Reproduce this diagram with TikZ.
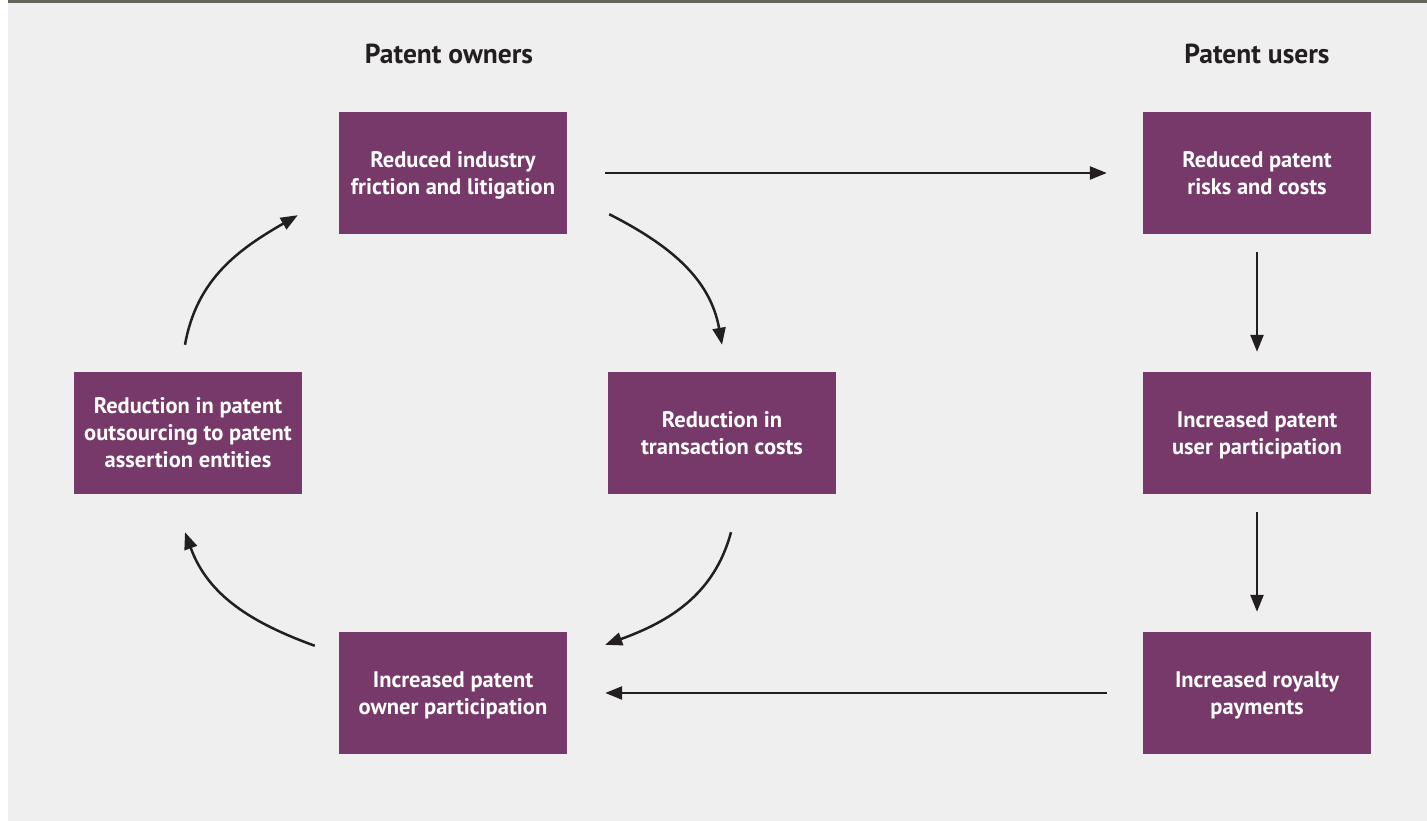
\documentclass[tikz,border=0pt]{standalone}
\usepackage{fontspec}
\setmainfont{PT Sans}
\usetikzlibrary{arrows.meta,positioning,calc}
\definecolor{plum}{HTML}{77386A}
\definecolor{paper}{HTML}{EFEFEF}
\definecolor{topline}{HTML}{66665F}
\definecolor{ink}{HTML}{231F20}

\begin{document}
\begin{tikzpicture}[x=1pt,y=1pt,>={Triangle[length=17pt,width=13pt]},node distance=260pt,on grid,
	box/.style={fill=plum,text=white,font=\bfseries\fontsize{22.5}{27}\selectfont,align=center,
		minimum width=228pt,minimum height=122pt,inner sep=0pt,text depth=0pt},
	head/.style={text=ink,font=\bfseries\fontsize{27.5}{30}\selectfont},
	link/.style={->,draw=ink,line width=2.5pt}]
				  \fill[white]   (0,0) rectangle (1427,821);
				  \fill[paper]   (8,0) rectangle (1427,818);
				  \fill[topline] (8,818) rectangle (1427,821);

				  \node[box]  (friction)  at (453,648)                       {Reduced industry\\friction and litigation};
				  \node[box]  (risks)     [right=804pt of friction]          {Reduced patent\\risks and costs};
				  \node[box]  (outsource) [below left=260pt and 265pt of friction]  {Reduction in patent\\outsourcing to patent\\assertion entities};
				  \node[box]  (transact)  [below right=260pt and 269pt of friction] {Reduction in\\transaction costs};
				  \node[box]  (users)     [below=of risks]                   {Increased patent\\user participation};
				  \node[box]  (owners)    [below=520pt of friction]          {Increased patent\\owner participation};
				  \node[box]  (royalty)   [below=of users]                   {Increased royalty\\payments};

				  \node[head] (ownhead)   [above=119pt of friction,xshift=-4pt] {Patent owners};
				  \node[head] (userhead)  [above=119pt of risks]             {Patent users};

				  \coordinate (c1) at ($(friction.south east)+(42,20)$);
				  \coordinate (c2) at ($(transact.north)+(0,27)$);
				  \coordinate (c3) at ($(transact.south)+(9,-38)$);
				  \coordinate (c4) at ($(owners.north east)+(38,-13)$);
				  \coordinate (c5) at ($(owners.north west)+(-24,-14)$);
				  \coordinate (c6) at ($(outsource.south)+(-3,-38)$);
				  \coordinate (c7) at ($(outsource.north)+(-3,27)$);
				  \coordinate (c8) at ($(friction.south west)+(-41,19)$);

				\draw[link,shorten <=38pt,shorten >=36pt] (friction) -- (risks);
				\draw[link,shorten <=18pt,shorten >=20pt] (risks) -- (users);
				\draw[link,shorten <=18pt,shorten >=20pt] (users) -- (royalty);
				\draw[link,shorten <=36pt,shorten >=38pt] (royalty) -- (owners);
				\draw[link] (c1) to[out=-27,in=100] (c2);
				\draw[link] (c3) to[out=-105,in=20] (c4);
				\draw[link] (c5) to[out=160,in=-70] (c6);
				\draw[link] (c7) to[out=80,in=210] (c8);
\end{tikzpicture}
\end{document}
